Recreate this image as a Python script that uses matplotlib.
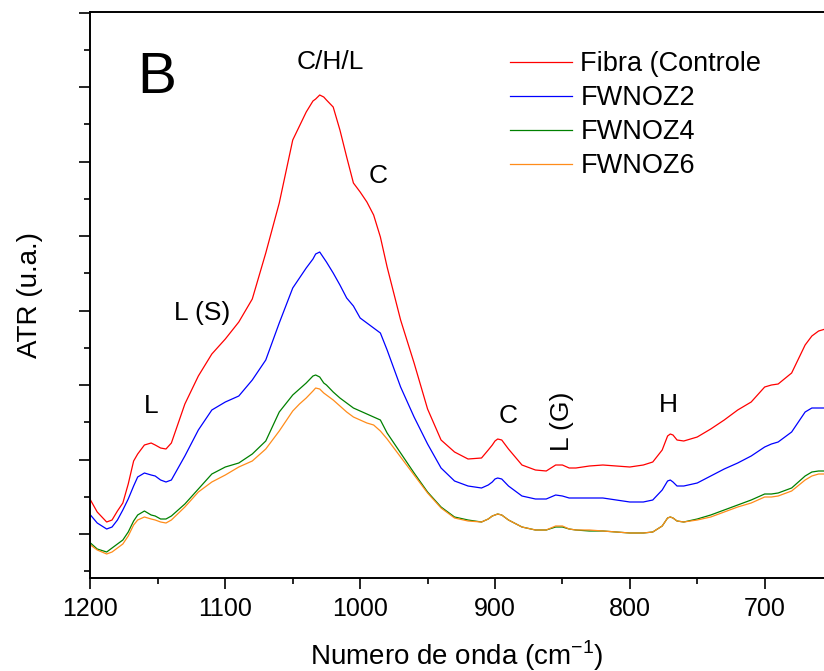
import matplotlib.pyplot as plt
from matplotlib.ticker import MultipleLocator

# Arial-like font
plt.rcParams['font.family'] = ['Liberation Sans', 'DejaVu Sans']

# FTIR-ATR spectra (arbitrary units)
wavenumber = [1200, 1195, 1188, 1184, 1180, 1176, 1172, 1168, 1165, 1160,
              1155, 1152, 1148, 1144, 1140, 1130, 1120, 1110, 1100, 1090,
              1080, 1070, 1060, 1050, 1045, 1040, 1035, 1033, 1030, 1027,
              1025, 1020, 1015, 1010, 1005, 1000, 995, 990, 985, 980,
              970, 960, 950, 940, 930, 920, 910, 905, 902, 900,
              898, 895, 890, 880, 870, 862, 855, 850, 845, 840,
              830, 820, 810, 800, 790, 783, 776, 772, 770, 768,
              765, 760, 750, 740, 730, 720, 710, 700, 695, 690,
              680, 670, 665, 660, 655]

fibra = [78, 66, 56, 58, 67, 75, 94, 117, 124, 133,
         135, 133, 130, 129, 135, 174, 202, 224, 239, 256,
         279, 325, 375, 438, 452, 466, 477, 479, 483, 481,
         478, 471, 448, 421, 395, 386, 376, 363, 341, 311,
         258, 215, 169, 138, 126, 119, 120, 128, 133, 137,
         139, 138, 129, 113, 108, 107, 113, 113, 110, 110,
         112, 113, 112, 111, 113, 116, 128, 142, 144, 143,
         138, 137, 141, 149, 158, 168, 176, 191, 193, 194,
         205, 233, 242, 247, 249]

fwnoz2 = [63, 55, 49, 51, 58, 68, 79, 92, 101, 105,
          103, 102, 98, 96, 98, 122, 148, 168, 176, 182,
          198, 218, 255, 290, 300, 310, 319, 324, 326, 320,
          316, 305, 293, 280, 272, 260, 255, 250, 245, 228,
          191, 161, 134, 110, 97, 92, 90, 93, 96, 99,
          100, 99, 92, 82, 79, 79, 83, 82, 80, 80,
          80, 80, 78, 76, 76, 78, 88, 97, 98, 96,
          92, 92, 95, 102, 109, 115, 122, 131, 134, 136,
          146, 166, 170, 170, 170]

fwnoz4 = [35, 29, 26, 30, 34, 38, 46, 57, 63, 67,
          63, 62, 59, 59, 62, 74, 89, 104, 111, 115,
          124, 137, 166, 183, 189, 195, 202, 203, 201, 195,
          193, 186, 180, 175, 170, 167, 164, 161, 158, 145,
          125, 105, 86, 71, 61, 58, 56, 59, 62, 63,
          64, 63, 58, 51, 48, 48, 51, 51, 49, 48,
          47, 47, 46, 45, 45, 46, 52, 60, 61, 60,
          57, 56, 59, 63, 68, 73, 78, 84, 84, 85,
          90, 102, 106, 107, 107]

fwnoz6 = [33, 28, 24, 26, 30, 34, 42, 53, 58, 61,
          59, 58, 56, 55, 58, 71, 86, 96, 103, 111,
          117, 129, 147, 167, 174, 180, 187, 190, 189, 185,
          183, 178, 172, 166, 161, 158, 155, 153, 147, 139,
          121, 103, 85, 70, 60, 57, 56, 59, 62, 63,
          64, 63, 58, 51, 48, 48, 52, 52, 49, 48,
          48, 47, 46, 45, 45, 46, 52, 60, 61, 60,
          57, 56, 58, 61, 66, 71, 75, 81, 81, 82,
          87, 98, 102, 104, 104]

series = [
    ('Fibra (Controle', fibra, '#ff0000'),
    ('FWNOZ2', fwnoz2, '#0000ff'),
    ('FWNOZ4', fwnoz4, '#008000'),
    ('FWNOZ6', fwnoz6, '#ff8c1a'),
]

fig = plt.figure(figsize=(8.24, 6.71), dpi=100)
ax = fig.add_axes([0.1098, 0.1386, 0.8902, 0.8435])

for name, values, col in series:
    ax.plot(wavenumber, values, color=col, lw=0.9, label=name)

# band assignments
ax.text(1150.7, 500, 'B', fontsize=42, ha='center', va='center')
ax.text(1022, 516, 'C/H/L', fontsize=19, ha='center', va='center')
ax.text(986.4, 402, 'C', fontsize=19, ha='center', va='center')
ax.text(1116.9, 265, 'L (S)', fontsize=19, ha='center', va='center')
ax.text(1154.7, 172, 'L', fontsize=19, ha='center', va='center')
ax.text(890, 162, 'C', fontsize=19, ha='center', va='center')
ax.text(850, 157, 'L (G)', fontsize=19, ha='center', va='center', rotation=90)
ax.text(771.5, 173, 'H', fontsize=19, ha='center', va='center')

ax.set_xlim(1200, 656)
ax.set_ylim(0, 566)
ax.xaxis.set_major_locator(MultipleLocator(100))
ax.xaxis.set_minor_locator(MultipleLocator(50))
ax.yaxis.set_major_locator(MultipleLocator(74.5, offset=44))
ax.yaxis.set_minor_locator(MultipleLocator(37.25, offset=6.75))

ax.spines['right'].set_visible(False)
for s in ['left', 'bottom', 'top']:
    ax.spines[s].set_linewidth(1.4)
ax.tick_params(which='major', direction='out', length=8, width=1.2, pad=6, labelsize=18)
ax.tick_params(which='minor', direction='out', length=4, width=1.2)
ax.tick_params(labelleft=False)

ax.set_xlabel('Numero de onda (cm$^{\\mathregular{-1}}$)', fontsize=20, labelpad=12)
ax.set_ylabel('ATR (u.a.)', fontsize=20, labelpad=26)

ax.legend(loc='upper left', bbox_to_anchor=(0.572, 0.931), frameon=False,
          fontsize=19.5, handlelength=2.3, handletextpad=0.3, labelspacing=0.3,
          borderpad=0, borderaxespad=0)

plt.savefig('out.png', dpi=100)
